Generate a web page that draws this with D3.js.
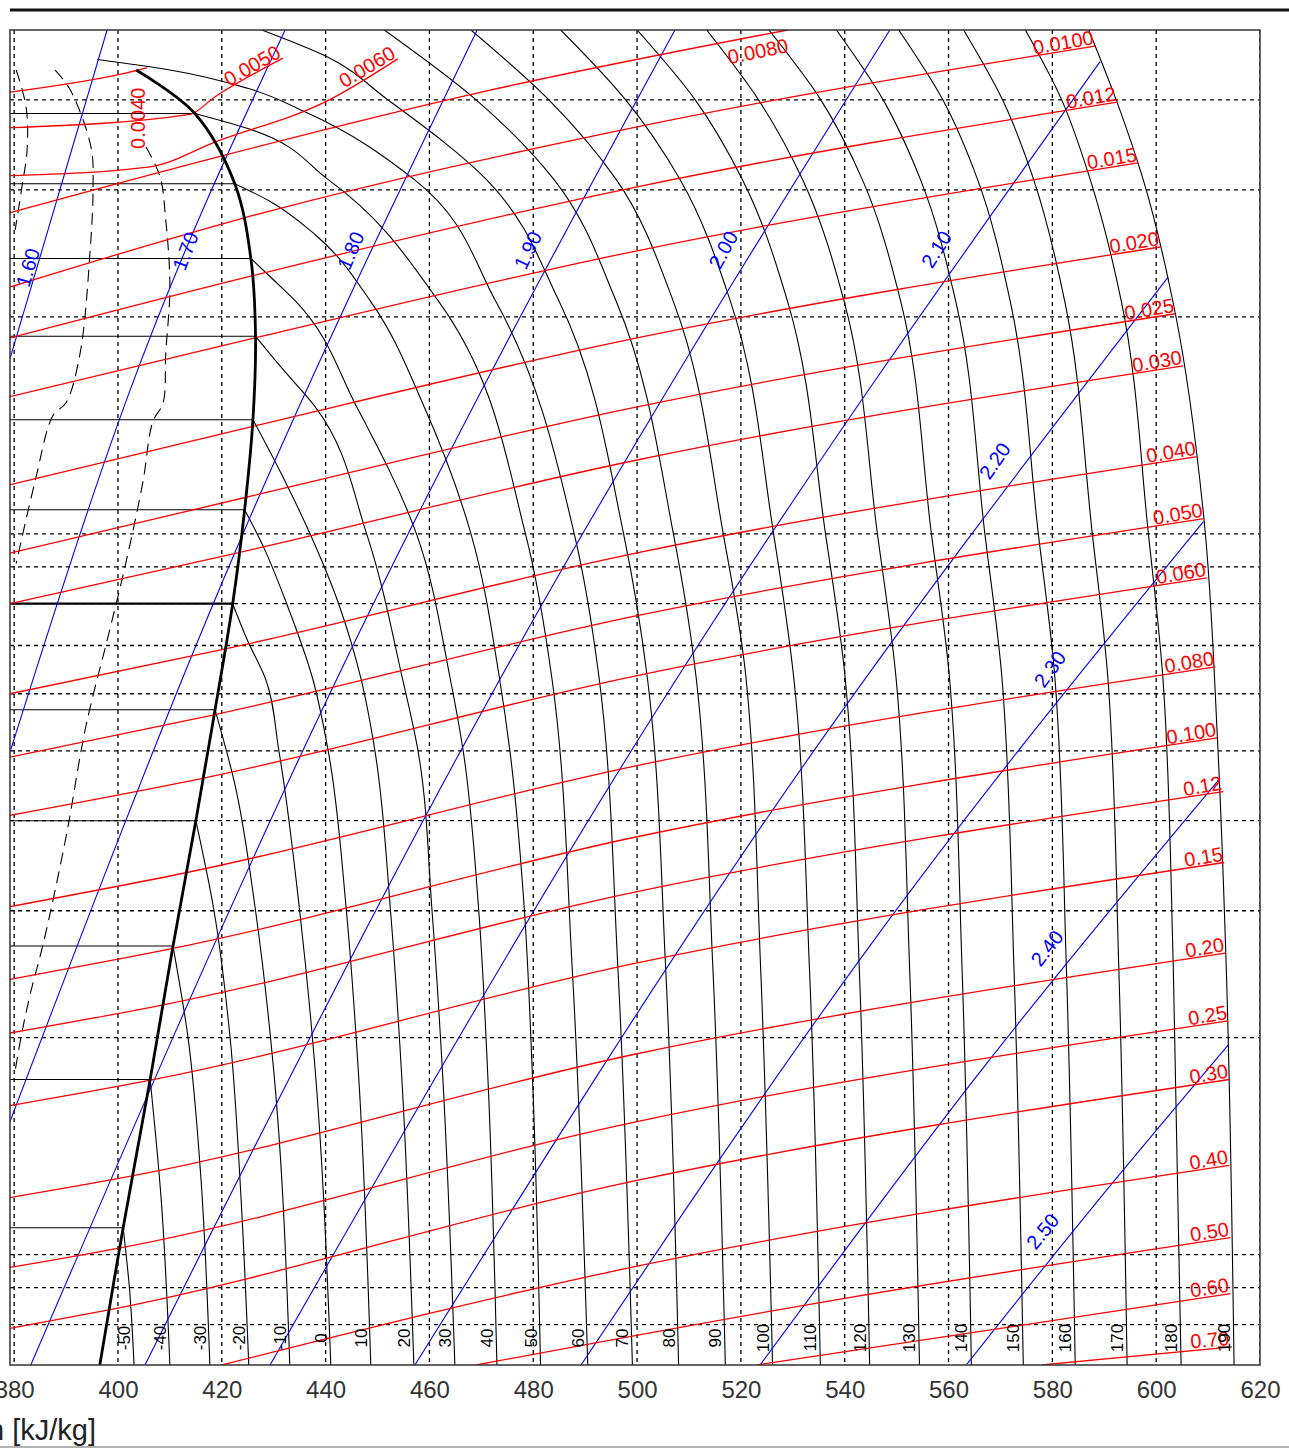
<!DOCTYPE html>
<html>
<head>
<meta charset="utf-8">
<script src="https://cdn.jsdelivr.net/npm/d3@7"></script>
<style>
  body { margin: 0; background: #fff; }
  svg { display: block; font-family: "Liberation Sans", Arial, sans-serif; }
</style>
</head>
<body>
<svg width="1289" height="1450"></svg>
<script>
// R410A log p-h diagram (cropped), h in kJ/kg, p in bar

var hTicks = [380, 400, 420, 440, 460, 480, 500, 520, 540, 560, 580, 600, 620];
var pGrid = [0.8, 0.9, 1, 2, 3, 4, 5, 6, 7, 8, 9, 10, 20, 30, 40];

// saturated vapour line [h, p]
var dome = [[396.5, 0.703], [401, 1.09], [406.2, 1.75], [410.6, 2.68], [415, 4.0], [418.7, 5.7],
  [422.1, 8.0], [424.4, 10.8], [426, 14.4], [426.5, 18.8], [425.6, 24.1], [422.5, 30.6],
  [414.8, 38.3], [403.5, 44]];

// quality lines inside the dome
var qualityLines = [
  [[380.4, 44], [382.3, 39.1], [382.5, 34.1], [381.5, 30.3], [380.2, 26.4]],
  [[387.9, 44], [390.8, 41.3], [394.8, 34.4], [395.2, 30.3], [394.6, 24.5], [392.7, 17.8],
   [390.0, 15.2], [387.5, 14.6], [384.0, 11.8], [380.4, 9.1]],
  [[405.4, 34.4], [408.1, 31.3], [409.2, 27.3], [410.0, 22.0], [409.2, 17.8], [408.7, 15.2],
   [406.7, 14.3], [404.8, 11.8], [401.5, 9.1], [398.5, 7.4], [393.8, 5.4], [390.0, 3.8],
   [385.6, 2.7], [383.1, 2.3], [381.3, 2.0], [380.2, 1.8]]
];

// two-phase isotherms: temperature, saturation pressure
var satTemps = [-50, -40, -30, -20, -10, 0, 10, 20, 30, 40, 50, 60];
var satPress = [1.09, 1.75, 2.68, 4.0, 5.7, 8.0, 10.8, 14.4, 18.8, 24.1, 30.6, 38.3];
var satHg = [401, 406.2, 410.6, 415, 418.7, 422.1, 424.4, 426, 426.5, 425.6, 422.5, 414.8];

// superheated isotherms [h, p]
var isoTemps = [-50, -40, -30, -20, -10, 0, 10, 20, 30, 40, 50, 60, 70, 80, 90, 100,
  110, 120, 130, 140, 150, 160, 170, 180, 190];
var isotherms = [
  [[401, 1.09], [402.2, 0.9], [403.1, 0.703]],
  [[406.2, 1.75], [408.3, 1.2], [410, 0.703]],
  [[410.6, 2.68], [413.5, 2.0], [415.9, 1.3], [417.7, 0.703]],
  [[415, 4.0], [418.5, 3.0], [421.6, 2.0], [423.7, 1.2], [425.2, 0.703]],
  [[418.7, 5.7], [422.5, 4.5], [426.5, 3.0], [430, 1.8], [433.1, 0.703]],
  [[422.1, 8], [425, 7.1], [428.4, 6.3], [431, 5], [435, 3], [438, 1.8], [441, 0.703]],
  [[424.4, 10.8], [428, 9.6], [432.5, 8], [437.5, 6.3], [440.5, 5], [444, 3], [446.3, 1.8], [448.7, 0.703]],
  [[426, 14.4], [431, 12.3], [437, 10], [442.5, 8], [446.8, 6.3], [449.5, 5], [452.5, 3], [454.6, 1.8], [457, 0.703]],
  [[426.5, 18.8], [431.5, 17], [438, 15], [447.9, 10], [454.8, 6.3], [457.8, 5], [460.5, 3], [462.5, 1.8], [464.9, 0.703]],
  [[425.6, 24.1], [430, 22.5], [434.3, 21], [446, 15], [457.5, 10], [464, 6.3], [466.5, 5], [469.5, 3], [471.2, 1.8], [473, 0.703]],
  [[422.5, 30.6], [429, 29], [438, 26], [448.7, 21], [459, 15], [468, 10], [473.5, 6.3], [475.5, 5], [478.3, 3], [479.8, 1.8], [481.4, 0.703]],
  [[414.8, 38.3], [425, 36.5], [440.5, 31], [461.8, 21], [478.5, 10], [483.6, 6.3], [487.5, 2.5], [490.5, 0.703]],
  [[396, 45.5], [410, 44], [425, 41.5], [436, 38.5], [457.1, 31], [472.8, 21], [487.9, 10], [492.7, 6.3], [496.3, 2.5], [499.1, 0.703]],
  [[427.7, 50], [440, 46], [452, 40], [471, 31], [485, 21], [497.4, 10], [502, 6.3], [505.5, 2.5], [508, 0.703]],
  [[451.3, 50], [469, 40], [484, 31], [496, 21], [507, 10], [511.4, 6.3], [514.6, 2.5], [517, 0.703]],
  [[468, 50], [483, 40], [496, 31], [507, 21], [516.6, 10], [521, 6.3], [523.8, 2.5], [526.1, 0.703]],
  [[485.3, 50], [497.8, 40], [508.3, 31], [518, 21], [526.3, 10], [530.2, 6.3], [533.2, 2.5], [535.3, 0.703]],
  [[500, 50], [511.2, 40], [520.3, 31], [529, 21], [536.3, 10], [540.1, 6.3], [542.8, 2.5], [544.8, 0.703]],
  [[513.4, 50], [523.4, 40], [531.9, 31], [539.9, 21], [546.3, 10], [549.9, 6.3], [552.5, 2.5], [554.4, 0.703]],
  [[525.4, 50], [535.4, 40], [543.4, 31], [550.8, 21], [556.7, 10], [560.2, 6.3], [562.6, 2.5], [564.4, 0.703]],
  [[538.4, 50], [547.4, 40], [554.6, 31], [561.4, 21], [567, 10], [570.3, 6.3], [572.6, 2.5], [574.4, 0.703]],
  [[550.4, 50], [558.9, 40], [565.6, 31], [571.9, 21], [577.3, 10], [580.5, 6.3], [582.7, 2.5], [584.4, 0.703]],
  [[562.9, 50], [570.4, 40], [576.4, 31], [582.4, 21], [587.7, 10], [590.7, 6.3], [592.8, 2.5], [594.4, 0.703]],
  [[574.8, 50], [581.8, 40], [587.3, 31], [593.3, 21], [598.5, 10], [601.3, 6.3], [603.3, 2.5], [604.8, 0.703]],
  [[587, 50], [592.3, 40], [597.5, 31], [603.7, 20.2], [609.2, 10.5], [611.8, 5.2], [613.5, 2.5], [615, 0.703]]
];

// isochores (m3/kg) [h, p]
var isoVol = ["0.0040", "0.0050", "0.0060", "0.0080", "0.0100", "0.012", "0.015", "0.020", "0.025",
  "0.030", "0.040", "0.050", "0.060", "0.080", "0.100", "0.12", "0.15", "0.20", "0.25", "0.30",
  "0.40", "0.50", "0.60", "0.70"];
var isochores = [
  [[379.2, 41.0], [401, 43.5], [405.6, 44.3]],
  [[379.2, 36.6], [413.9, 38.2], [418.5, 40.3], [431.8, 45.7]],
  [[379.2, 31.4], [406.2, 32.3], [418.9, 35.0], [440.7, 40.0], [453.9, 45.6]],
  [[379.2, 27.9], [419.7, 33.4], [470, 41.0], [529, 50]],
  [[379.2, 22.0], [424, 27.4], [500, 36.7], [588.2, 47.5]],
  [[379.2, 18.7], [425.8, 22.8], [500, 30.3], [592.5, 39.7]],
  [[379.2, 15.5], [426.4, 18.7], [500, 24.7], [596.5, 32.7]],
  [[379.2, 11.7], [426, 14.1], [500, 18.7], [600.8, 25]],
  [[379.2, 9.4], [424.7, 11.24], [500, 15.0], [603.7, 20.2]],
  [[379.2, 8.0], [423.3, 9.42], [500, 12.66], [605.2, 17.1]],
  [[379.2, 6.0], [420.5, 6.92], [500, 9.41], [607.9, 12.8]],
  [[379.2, 4.9], [418.5, 5.61], [500, 7.70], [609.2, 10.5]],
  [[379.2, 4.07], [416.3, 4.58], [500, 6.36], [609.8, 8.69]],
  [[379.2, 3.04], [413.3, 3.39], [500, 4.77], [611.4, 6.54]],
  [[379.2, 2.41], [410.6, 2.66], [500, 3.80], [611.8, 5.21]],
  [[379.2, 2.03], [408.5, 2.22], [500, 3.19], [612.9, 4.39]],
  [[379.2, 1.61], [406, 1.745], [500, 2.54], [613.1, 3.5]],
  [[379.2, 1.20], [403, 1.287], [500, 1.90], [613.3, 2.62]],
  [[379.2, 0.96], [400.5, 1.022], [500, 1.53], [613.9, 2.11]],
  [[379.2, 0.79], [398.5, 0.839], [500, 1.268], [614.1, 1.75]],
  [[420, 0.703], [500, 0.964], [614.1, 1.33]],
  [[469, 0.703], [540, 0.87], [614.3, 1.056]],
  [[523, 0.703], [570, 0.79], [614.3, 0.883]],
  [[578, 0.703], [614.6, 0.745]]
];

// isentropes kJ/(kg K) [h, p] and label anchors
var isoEnt = ["1.60", "1.70", "1.80", "1.90", "2.00", "2.10", "2.20", "2.30", "2.40", "2.50"];
var isentropes = [
  [[379.2, 17.5], [397.9, 50]],
  [[379.2, 4.98], [402.3, 15.8], [432.2, 50]],
  [[379.2, 1.53], [420.6, 8.74], [469.2, 50]],
  [[383.2, 0.703], [440.5, 5.94], [507.3, 50]],
  [[405.2, 0.703], [471.7, 5.94], [548.7, 50]],
  [[429.3, 0.703], [503.5, 5.65], [589.2, 45.2]],
  [[457.2, 0.703], [524.7, 4.0], [602.3, 22.7]],
  [[489.2, 0.703], [545.3, 2.71], [609.1, 10.4]],
  [[523.7, 0.703], [566, 1.79], [612.3, 4.58]],
  [[563.4, 0.703], [588, 1.17], [613.9, 1.955]]
];
var entLabelAt = [[384.5, 23.2], [414.8, 24.4], [446.6, 24.4], [480.7, 24.4], [518.3, 24.4],
  [559.3, 24.4], [570.5, 12.4], [581.1, 6.37], [580.5, 2.61], [579.6, 1.056]];

var svg = d3.select("svg"),
    margin = {top: 30, right: 29, bottom: 85, left: 10},
    width = 1289 - margin.left - margin.right,
    height = 1450 - margin.top - margin.bottom;

var x = d3.scaleLinear().domain([379.2, 620]).range([margin.left, margin.left + width]);
var y = d3.scaleLog().domain([0.703, 50]).range([margin.top + height, margin.top]);

function makeLine(curve) {
  return d3.line()
      .x(function (d) { return x(d[0]); })
      .y(function (d) { return y(d[1]); })
      .curve(curve);
}
var smooth = makeLine(d3.curveCatmullRom.alpha(0.5)),
    alongP = makeLine(d3.curveMonotoneY),
    alongH = makeLine(d3.curveMonotoneX);

svg.append("clipPath").attr("id", "plot")
  .append("rect")
    .attr("x", margin.left).attr("y", margin.top)
    .attr("width", width).attr("height", height);

var g = svg.append("g").attr("clip-path", "url(#plot)");

// grid
g.selectAll(".vgrid").data(hTicks).enter().append("line")
    .attr("x1", function (d) { return x(d); }).attr("x2", function (d) { return x(d); })
    .attr("y1", margin.top).attr("y2", margin.top + height)
    .attr("stroke", "#000").attr("stroke-width", 1.3).attr("stroke-dasharray", "4,4");
g.selectAll(".hgrid").data(pGrid).enter().append("line")
    .attr("x1", margin.left).attr("x2", margin.left + width)
    .attr("y1", function (d) { return y(d); }).attr("y2", function (d) { return y(d); })
    .attr("stroke", "#000").attr("stroke-width", 1.3).attr("stroke-dasharray", "4,4");

// two-phase isotherms
g.selectAll(".sat").data(satTemps).enter().append("line")
    .attr("x1", margin.left)
    .attr("x2", function (d, i) { return x(satHg[i]); })
    .attr("y1", function (d, i) { return y(satPress[i]); })
    .attr("y2", function (d, i) { return y(satPress[i]); })
    .attr("stroke", "#000")
    .attr("stroke-width", function (d) { return d === 0 ? 2.2 : 1.1; });

// quality lines
g.selectAll(".qual").data(qualityLines).enter().append("path")
    .attr("d", smooth).attr("fill", "none")
    .attr("stroke", "#000").attr("stroke-width", 1.1).attr("stroke-dasharray", "12,7");

// superheated isotherms
g.selectAll(".iso").data(isotherms).enter().append("path")
    .attr("d", alongP).attr("fill", "none")
    .attr("stroke", "#000").attr("stroke-width", 1.1);

// isentropes
g.selectAll(".ent").data(isentropes).enter().append("path")
    .attr("d", alongH).attr("fill", "none")
    .attr("stroke", "#0000ff").attr("stroke-width", 1.1);

// isochores
g.selectAll(".vol").data(isochores).enter().append("path")
    .attr("d", alongH).attr("fill", "none")
    .attr("stroke", "#ff0000").attr("stroke-width", 1.3);

// dome
g.append("path").datum(dome)
    .attr("d", smooth).attr("fill", "none")
    .attr("stroke", "#000").attr("stroke-width", 2.8);

function angleOf(a, b) {
  return Math.atan2(y(b[1]) - y(a[1]), x(b[0]) - x(a[0])) * 180 / Math.PI;
}

// isochore labels at line ends
isochores.forEach(function (pts, i) {
  var end = pts[pts.length - 1], prev = pts[pts.length - 2];
  var t = g.append("text")
      .attr("fill", "#ff0000").attr("font-size", 20).text(isoVol[i]);
  if (i === 0) {
    t.attr("transform", "translate(" + (x(end[0]) - 2) + "," + y(34.2) + ") rotate(-90)")
      .attr("text-anchor", "start");
  } else {
    var ex = Math.min(x(end[0]), x(620) - 30), ey = y(end[1]);
    if (end[1] >= 49) { ex = x(end[0]) + 2; ey = y(end[1]) + 24; }
    t.attr("transform", "translate(" + ex + "," + ey + ") rotate(" + angleOf(prev, end) + ")")
      .attr("text-anchor", "end").attr("dy", -2);
  }
});

// isentrope labels
entLabelAt.forEach(function (d, i) {
  var pts = isentropes[i];
  var a = angleOf(pts[0], pts[pts.length - 1]);
  g.append("text")
      .attr("fill", "#0000ff").attr("font-size", 20).attr("text-anchor", "middle")
      .attr("dy", -3)
      .attr("transform", "translate(" + x(d[0]) + "," + y(d[1]) + ") rotate(" + a + ")")
      .text(isoEnt[i]);
});

// isotherm labels along the bottom
isotherms.forEach(function (pts, i) {
  var b = pts[pts.length - 1];
  g.append("text")
      .attr("fill", "#000").attr("font-size", 17).attr("text-anchor", "middle")
      .attr("transform", "translate(" + (x(b[0]) - 4) + "," + (margin.top + height - 27) + ") rotate(-90)")
      .text(isoTemps[i]);
});

// frame
svg.append("rect")
    .attr("x", margin.left).attr("y", margin.top)
    .attr("width", width).attr("height", height)
    .attr("fill", "none").attr("stroke", "#333").attr("stroke-width", 1.5);
svg.append("line")
    .attr("x1", 10).attr("x2", 1289).attr("y1", 10).attr("y2", 10)
    .attr("stroke", "#111").attr("stroke-width", 3);
svg.append("line")
    .attr("x1", 0).attr("x2", 1289).attr("y1", 1447).attr("y2", 1447)
    .attr("stroke", "#999").attr("stroke-width", 1.5);

// x axis labels
var xAxis = svg.append("g")
    .attr("transform", "translate(0," + (margin.top + height) + ")")
    .call(d3.axisBottom(x).tickValues(hTicks).tickSize(0).tickPadding(16).tickFormat(d3.format("d")));
xAxis.select(".domain").remove();
xAxis.selectAll("text")
    .attr("font-family", "Liberation Sans, Arial, sans-serif")
    .attr("font-size", 24).attr("fill", "#333");

svg.append("text")
    .attr("x", 96).attr("y", 1440)
    .attr("text-anchor", "end").attr("font-size", 29).attr("fill", "#222")
    .text("h [kJ/kg]");
</script>
</body>
</html>
